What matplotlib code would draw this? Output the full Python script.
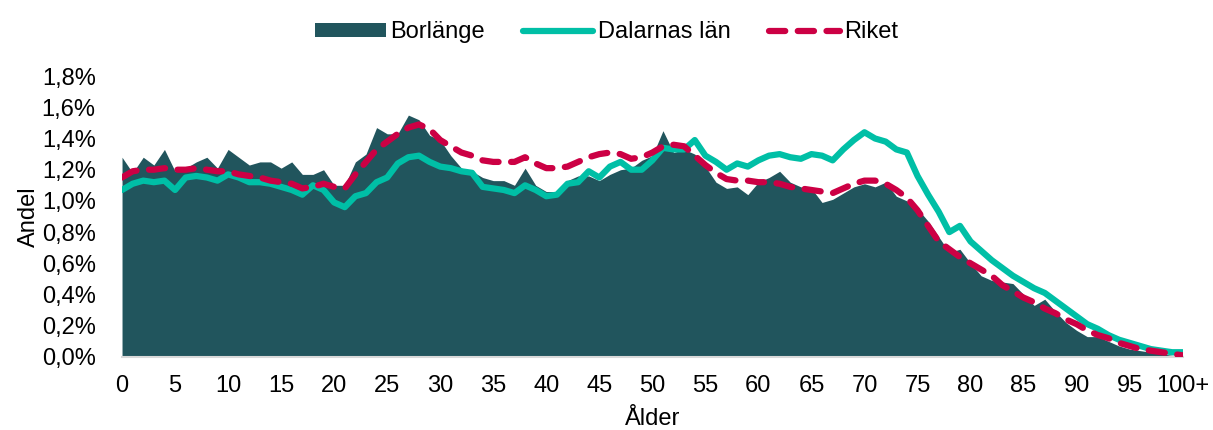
import matplotlib
matplotlib.use('Agg')
import matplotlib.pyplot as plt
from matplotlib.patches import Patch
from matplotlib.lines import Line2D

# Andel av befolkningen per ålder (%)
ages = list(range(0, 101))

borlange = [1.28, 1.18, 1.28, 1.23, 1.33, 1.19, 1.21, 1.25, 1.28, 1.21,
            1.33, 1.28, 1.23, 1.25, 1.25, 1.21, 1.25, 1.17, 1.17, 1.20,
            1.10, 1.10, 1.25, 1.30, 1.47, 1.43, 1.43, 1.55, 1.52, 1.42,
            1.39, 1.29, 1.21, 1.19, 1.15, 1.13, 1.13, 1.10, 1.21, 1.10,
            1.06, 1.06, 1.13, 1.16, 1.16, 1.13, 1.17, 1.20, 1.21, 1.26,
            1.29, 1.45, 1.31, 1.33, 1.30, 1.22, 1.12, 1.08, 1.09, 1.04,
            1.12, 1.15, 1.19, 1.12, 1.09, 1.08, 0.99, 1.01, 1.05, 1.09,
            1.11, 1.09, 1.12, 1.03, 1.00, 0.95, 0.87, 0.77, 0.67, 0.69,
            0.60, 0.52, 0.49, 0.48, 0.47, 0.40, 0.33, 0.37, 0.29, 0.22,
            0.17, 0.13, 0.13, 0.10, 0.07, 0.05, 0.04, 0.03, 0.02, 0.01,
            0.01]

dalarna = [1.07, 1.11, 1.13, 1.12, 1.13, 1.07, 1.15, 1.16, 1.15, 1.13,
           1.17, 1.15, 1.12, 1.12, 1.11, 1.09, 1.07, 1.04, 1.10, 1.07,
           0.99, 0.96, 1.03, 1.05, 1.12, 1.15, 1.24, 1.28, 1.29, 1.25,
           1.22, 1.21, 1.19, 1.18, 1.09, 1.08, 1.07, 1.05, 1.10, 1.07,
           1.03, 1.04, 1.11, 1.12, 1.19, 1.15, 1.22, 1.25, 1.20, 1.20,
           1.26, 1.34, 1.33, 1.33, 1.39, 1.29, 1.25, 1.20, 1.24, 1.22,
           1.26, 1.29, 1.30, 1.28, 1.27, 1.30, 1.29, 1.26, 1.33, 1.39,
           1.44, 1.40, 1.38, 1.33, 1.31, 1.16, 1.04, 0.93, 0.80, 0.84,
           0.74, 0.68, 0.62, 0.57, 0.52, 0.48, 0.44, 0.41, 0.36, 0.31,
           0.26, 0.21, 0.18, 0.14, 0.11, 0.09, 0.07, 0.05, 0.04, 0.03,
           0.03]

riket = [1.15, 1.19, 1.20, 1.20, 1.21, 1.20, 1.20, 1.21, 1.20, 1.19,
         1.19, 1.17, 1.16, 1.15, 1.13, 1.12, 1.11, 1.08, 1.09, 1.11,
         1.09, 1.08, 1.17, 1.25, 1.33, 1.38, 1.43, 1.47, 1.49, 1.46,
         1.39, 1.35, 1.31, 1.29, 1.26, 1.25, 1.25, 1.25, 1.28, 1.24,
         1.21, 1.21, 1.22, 1.25, 1.28, 1.30, 1.31, 1.30, 1.27, 1.28,
         1.31, 1.35, 1.36, 1.35, 1.29, 1.23, 1.18, 1.14, 1.13, 1.13,
         1.12, 1.12, 1.11, 1.09, 1.08, 1.07, 1.06, 1.05, 1.08, 1.11,
         1.13, 1.13, 1.11, 1.07, 1.02, 0.94, 0.84, 0.74, 0.69, 0.64,
         0.60, 0.56, 0.52, 0.46, 0.42, 0.38, 0.35, 0.31, 0.28, 0.24,
         0.21, 0.17, 0.14, 0.12, 0.09, 0.07, 0.05, 0.04, 0.03, 0.02,
         0.01]

x_ticks = list(range(0, 101, 5))
x_labels = [str(t) for t in x_ticks[:-1]] + ['100+']
y_ticks = [0.0, 0.2, 0.4, 0.6, 0.8, 1.0, 1.2, 1.4, 1.6, 1.8]

c_borl = '#21555D'
c_dal = '#00BFA6'
c_rik = '#CC0044'

plt.rcParams['font.family'] = ['Liberation Sans', 'DejaVu Sans']
plt.rcParams['font.size'] = 17

fig = plt.figure(figsize=(12.13, 4.30), dpi=100)
ax = fig.add_axes([0.1006, 0.170, 0.8744, 0.653])

ax.fill_between(ages, borlange, 0, color=c_borl, lw=0, zorder=1)
ax.plot(ages, dalarna, color=c_dal, lw=4.5, solid_capstyle='round', zorder=2)
ax.plot(ages, riket, color=c_rik, lw=4.5, linestyle=(0, (2.6, 2.0)),
        dash_capstyle='round', zorder=3)

ax.set_xlim(0, 100)
ax.set_ylim(0, 1.8)
ax.set_xticks(x_ticks)
ax.set_xticklabels(x_labels)
ax.set_yticks(y_ticks)
ax.set_yticklabels([f'{v:.1f}%'.replace('.', ',') for v in y_ticks])
ax.tick_params(axis='x', length=0, pad=13)
ax.tick_params(axis='y', length=0, pad=19)

for s in ['top', 'right', 'left']:
    ax.spines[s].set_visible(False)
ax.spines['bottom'].set_color('#D9D9D9')
ax.spines['bottom'].set_linewidth(1.5)

ax.set_xlabel('Ålder', labelpad=8)
ax.set_ylabel('Andel', labelpad=1)

handles = [Patch(facecolor=c_borl, edgecolor='none'),
           Line2D([0], [0], color=c_dal, lw=4.5, solid_capstyle='round'),
           Line2D([0], [0], color=c_rik, lw=4.5, linestyle=(0, (2.6, 2.0)),
                  dash_capstyle='round')]
fig.legend(handles, ['Borlänge', 'Dalarnas län', 'Riket'],
           loc='upper center', bbox_to_anchor=(0.5, 1.0), ncol=3,
           frameon=False, handlelength=3.0, handleheight=0.55,
           handletextpad=0.2, columnspacing=1.6)

fig.savefig('out.png', dpi=100)
